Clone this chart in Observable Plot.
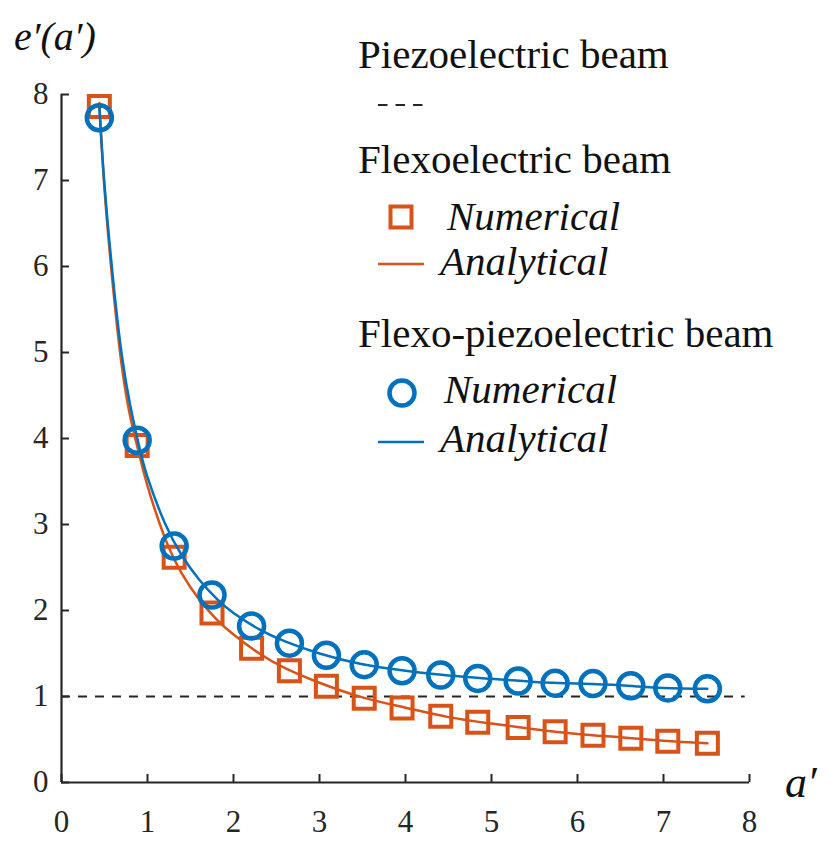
<!DOCTYPE html>
<html>
<head>
<meta charset="utf-8">
<script src="https://cdn.jsdelivr.net/npm/d3@7"></script>
<script src="https://cdn.jsdelivr.net/npm/@observablehq/plot@0.6"></script>
<style>
  body { margin: 0; background: #fff; }
  #wrap { position: relative; width: 829px; height: 847px; }
  #wrap svg text { font-family: "Liberation Serif", "Times New Roman", Times, "DejaVu Serif", serif !important; }
  #overlay { position: absolute; left: 0; top: 0; pointer-events: none; }
  #overlay text { fill: #111; }
</style>
</head>
<body>
<div id="wrap"></div>
<script>
// ---- data ----
const aNum = [0.44, 0.88, 1.31, 1.75, 2.21, 2.65, 3.08, 3.52, 3.96, 4.41, 4.84, 5.31, 5.74, 6.18, 6.62, 7.05, 7.51];
const flexoNumerical = [7.86, 3.92, 2.62, 1.97, 1.56, 1.30, 1.12, 0.98, 0.865, 0.77, 0.70, 0.64, 0.59, 0.55, 0.515, 0.48, 0.455];
const flexoPiezoNumerical = [7.73, 3.98, 2.75, 2.18, 1.82, 1.62, 1.48, 1.37, 1.30, 1.25, 1.21, 1.18, 1.155, 1.15, 1.125, 1.10, 1.09];

const aAna = [0.44, 0.5, 0.6, 0.7, 0.8, 0.9, 1.0, 1.2, 1.4, 1.6, 1.8, 2.0, 2.3, 2.6, 3.0, 3.5, 4.0, 4.5, 5.0, 5.5, 6.0, 6.5, 7.0, 7.51];
const flexoAnalytical = [7.9, 6.9, 5.75, 4.85, 4.25, 3.83, 3.45, 2.85, 2.43, 2.13, 1.90, 1.72, 1.50, 1.33, 1.16, 0.99, 0.87, 0.76, 0.685, 0.62, 0.565, 0.525, 0.485, 0.455];
const flexoPiezoAnalytical = [7.85, 6.95, 5.85, 4.98, 4.38, 3.92, 3.55, 3.02, 2.64, 2.36, 2.14, 1.97, 1.78, 1.64, 1.50, 1.375, 1.30, 1.245, 1.205, 1.17, 1.15, 1.13, 1.10, 1.09];

const piezoLevel = [1];
const xTicks = [0, 1, 2, 3, 4, 5, 6, 7, 8];
const yTicks = [0, 1, 2, 3, 4, 5, 6, 7, 8];

const orange = "#D95319";
const blue = "#0072BD";
const ink = "#262626";

const numerical = aNum.map((a, i) => ({a, flexo: flexoNumerical[i], fp: flexoPiezoNumerical[i]}));
const analytical = aAna.map((a, i) => ({a, flexo: flexoAnalytical[i], fp: flexoPiezoAnalytical[i]}));

const W = 829, H = 847, mL = 61, mR = 80, mT = 94, mB = 65;
const innerW = W - mL - mR, innerH = H - mT - mB;
const tickLen = 8;
const serif = "'Liberation Serif', 'Times New Roman', Times, 'DejaVu Serif', serif";

const chart = Plot.plot({
  width: W, height: H,
  marginLeft: mL, marginRight: mR, marginTop: mT, marginBottom: mB,
  x: {domain: [0, 8]},
  y: {domain: [0, 8]},
  style: {fontFamily: serif, background: "white", color: ink},
  marks: [
    Plot.ruleY(piezoLevel, {x1: 0, x2: 7.95, stroke: ink, strokeWidth: 1.8, strokeDasharray: "9,8"}),
    Plot.dot(numerical, {x: "a", y: "flexo", symbol: "square", r: 11.85, stroke: orange, strokeWidth: 4, fill: "none"}),
    Plot.line(analytical, {x: "a", y: "flexo", stroke: orange, strokeWidth: 2.5, curve: "natural"}),
    Plot.dot(numerical, {x: "a", y: "fp", symbol: "circle", r: 12.5, stroke: blue, strokeWidth: 4.5, fill: "none"}),
    Plot.line(analytical, {x: "a", y: "fp", stroke: blue, strokeWidth: 2.5, curve: "natural"}),
    Plot.ruleX(xTicks, {insetTop: innerH - tickLen, stroke: ink, strokeWidth: 2}),
    Plot.ruleY(yTicks, {insetRight: innerW - tickLen, stroke: ink, strokeWidth: 2}),
    Plot.ruleX([0], {stroke: ink, strokeWidth: 2.2}),
    Plot.ruleY([0], {stroke: ink, strokeWidth: 2.2}),
    Plot.axisX({ticks: xTicks, tickSize: 0, tickPadding: 27, fontSize: 31, label: null, fill: ink, fontFamily: serif}),
    Plot.axisY({ticks: yTicks, tickSize: 0, tickPadding: 13, fontSize: 31, label: null, fill: ink, fontFamily: serif})
  ]
});

const wrap = document.getElementById("wrap");
wrap.appendChild(chart);

// legend and axis titles as an overlay
const ns = "http://www.w3.org/2000/svg";
const ov = document.createElementNS(ns, "svg");
ov.setAttribute("id", "overlay");
ov.setAttribute("width", W);
ov.setAttribute("height", H);
wrap.appendChild(ov);

function txt(s, x, y, size, italic) {
  const t = document.createElementNS(ns, "text");
  t.setAttribute("x", x); t.setAttribute("y", y);
  t.setAttribute("font-size", size);
  t.setAttribute("font-family", serif);
  if (italic) t.setAttribute("font-style", "italic");
  t.textContent = s;
  ov.appendChild(t);
}
function el(name, attrs) {
  const e = document.createElementNS(ns, name);
  for (const k in attrs) e.setAttribute(k, attrs[k]);
  ov.appendChild(e);
}

const legendFont = 41;
txt("Piezoelectric beam", 358, 68, legendFont);
el("line", {x1: 378, x2: 424, y1: 105, y2: 105, stroke: ink, "stroke-width": 1.8, "stroke-dasharray": "9.5,8"});
txt("Flexoelectric beam", 358, 173, legendFont);
el("rect", {x: 401 - 10.5, y: 217 - 10.5, width: 21, height: 21, fill: "none", stroke: orange, "stroke-width": 4});
txt("Numerical", 447, 230, legendFont, true);
el("line", {x1: 378, x2: 424, y1: 264, y2: 264, stroke: orange, "stroke-width": 2.5});
txt("Analytical", 440, 275, legendFont, true);
txt("Flexo-piezoelectric beam", 358, 347, legendFont);
el("circle", {cx: 402, cy: 393, r: 12.5, fill: "none", stroke: blue, "stroke-width": 4.5});
txt("Numerical", 444, 403, legendFont, true);
el("line", {x1: 378, x2: 424, y1: 442, y2: 442, stroke: blue, "stroke-width": 2.5});
txt("Analytical", 440, 452, legendFont, true);

txt("e\u2032(a\u2032)", 14, 50, 40, true);
txt("a\u2032", 785, 797, 44, true);
</script>
</body>
</html>
